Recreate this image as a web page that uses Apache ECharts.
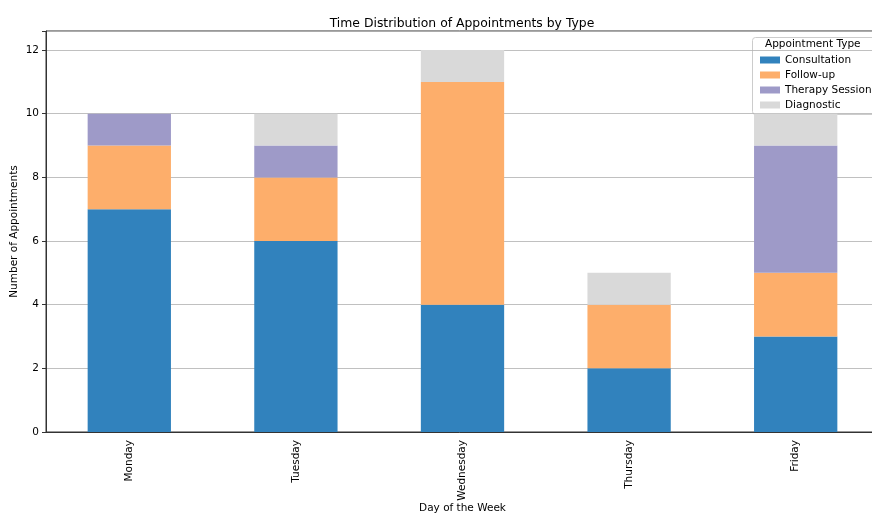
<!DOCTYPE html>
<html><head><meta charset="utf-8">
<script src="https://cdn.jsdelivr.net/npm/echarts@6/dist/echarts.min.js"></script>
<style>html,body{margin:0;padding:0;background:#fff}#c{width:872px;height:513px}</style>
</head><body><div id="c"></div>
<script>
const days = ["Monday","Tuesday","Wednesday","Thursday","Friday"];
const consultation = [7,6,4,2,3];
const followUp = [2,2,7,2,2];
const therapy = [1,1,0,0,4];
const diagnostic = [0,1,1,1,1];
const yTicks = [0,2,4,6,8,10,12];
const seriesNames = ["Consultation","Follow-up","Therapy Session","Diagnostic"];
const colors = ["#3182bd","#fdae6b","#9e9ac8","#d9d9d9"];
const font = "DejaVu Sans";
const chart = echarts.init(document.getElementById('c'));
const mk = (name, data, i) => ({
  name, type:'bar', stack:'t', data, barWidth:'50%',
  itemStyle:{color:colors[i]}, emphasis:{disabled:true}
});
chart.setOption({
  animation:false,
  title:{text:"Time Distribution of Appointments by Type", left:457, top:13, textAlign:'center',
    textStyle:{fontFamily:font,fontSize:12.4,fontWeight:'normal',color:'#000'}},
  grid:{left:46, top:31, width:833, bottom:81, show:true, borderColor:'#333', borderWidth:1, backgroundColor:'transparent',
    outerBoundsMode:'none', containLabel:false},
  xAxis:{type:'category', data:days, name:"Day of the Week", nameLocation:'middle', nameGap:71, nameMoveOverlap:false,
    nameTextStyle:{fontFamily:font,fontSize:10.5,color:'#000'},
    axisLine:{lineStyle:{color:'#333'}}, axisTick:{alignWithLabel:true, length:4, lineStyle:{color:'#333'}},
    axisLabel:{rotate:90, fontFamily:font, fontSize:10.5, color:'#000', margin:8}},
  yAxis:{type:'value', min:0, max:12.6, interval:2, name:"Number of Appointments", nameLocation:'middle', nameGap:26, nameMoveOverlap:false,
    nameTextStyle:{fontFamily:font,fontSize:10.5,color:'#000'},
    axisLine:{show:true, lineStyle:{color:'#333'}}, axisTick:{show:true,length:4,lineStyle:{color:'#333'}},
    axisLabel:{fontFamily:font,fontSize:10.5,color:'#000', margin:7, formatter:v=> yTicks.includes(v)?String(v):''},
    splitLine:{lineStyle:{color:'#b0b0b0', width:0.8}}},
  legend:{orient:'vertical', left:755, top:49, itemWidth:20, itemHeight:7, itemGap:3,
    icon:'rect', data:seriesNames,
    textStyle:{fontFamily:font,fontSize:10.5,color:'#000', lineHeight:12}},
  graphic:[
    {type:'rect', left:752, top:37, z:-1, shape:{width:130, height:77, r:3}, style:{fill:'rgba(255,255,255,0.8)', stroke:'#ccc', lineWidth:1}},
    {type:'text', left:765, top:39, style:{text:"Appointment Type", font:"10.5px 'DejaVu Sans'", fill:'#000'}}
  ],
  series:[mk(seriesNames[0],consultation,0), mk(seriesNames[1],followUp,1), mk(seriesNames[2],therapy,2), mk(seriesNames[3],diagnostic,3)]
});
</script></body></html>
